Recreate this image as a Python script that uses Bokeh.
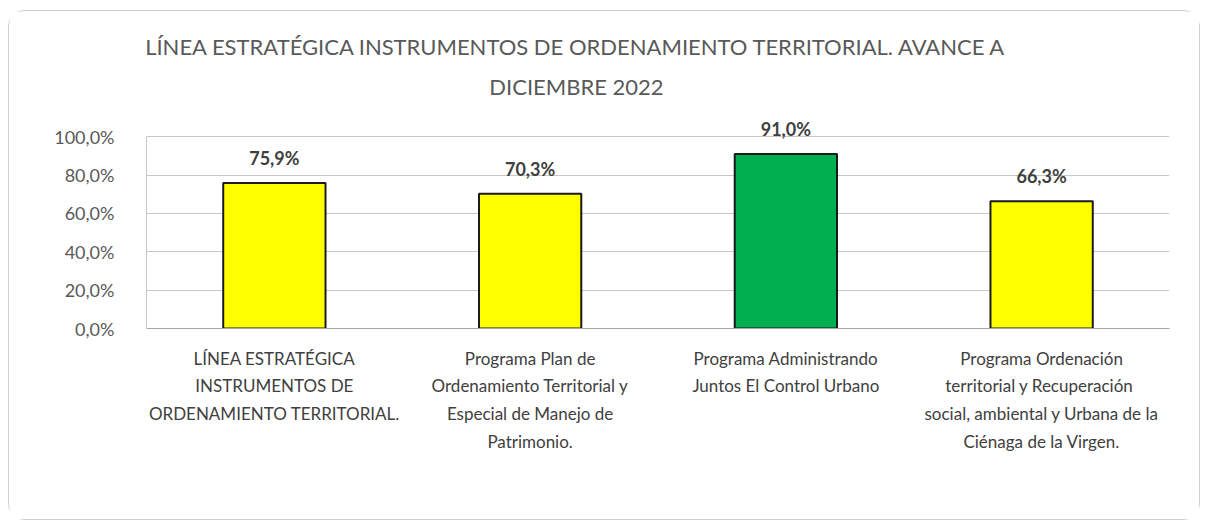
from bokeh.plotting import figure
from bokeh.models import ColumnDataSource, LabelSet, Label, CustomJSTickFormatter, FixedTicker
from bokeh.core.properties import value
from bokeh.embed import file_html
from bokeh.resources import INLINE

categories = [
    "LÍNEA ESTRATÉGICA\nINSTRUMENTOS DE\nORDENAMIENTO TERRITORIAL.",
    "Programa Plan de\nOrdenamiento Territorial y\nEspecial de Manejo de\nPatrimonio.",
    "Programa Administrando\nJuntos El Control Urbano",
    "Programa Ordenación\nterritorial y  Recuperación\nsocial, ambiental y Urbana de la\nCiénaga de la Virgen.",
]
values = [75.9, 70.3, 91.0, 66.3]
colors = ["#FFFF00", "#FFFF00", "#00B050", "#FFFF00"]
labels = ["75,9%", "70,3%", "91,0%", "66,3%"]
y_ticks = [0, 20, 40, 60, 80, 100]
title_lines = ["LÍNEA ESTRATÉGICA INSTRUMENTOS DE ORDENAMIENTO TERRITORIAL. AVANCE A",
               "DICIEMBRE 2022"]

FONT = "Lato"

src = ColumnDataSource(dict(cat=categories, val=values, color=colors, lab=labels))

p = figure(x_range=categories, y_range=(0, 165.3), width=1192, height=510,
           output_backend="svg", toolbar_location=None,
           min_border_left=137, min_border_right=32, min_border_top=0, min_border_bottom=193)
p.styles = {"border": "1px solid #d0d0d0", "border-radius": "16px",
            "margin-left": "8px", "margin-top": "10px"}
p.outline_line_color = None

p.vbar(x="cat", top="val", width=0.4, source=src, fill_color="color",
       line_color="#1a1a1a", line_width=2)

p.add_layout(LabelSet(x="cat", y="val", text="lab", source=src, y_offset=25,
                      text_align="center", text_baseline="middle",
                      text_font=value(FONT), text_font_style="bold",
                      text_font_size="18px", text_color="#404040"))

p.yaxis.ticker = FixedTicker(ticks=y_ticks)
p.yaxis.bounds = (0, 100)
p.yaxis.formatter = CustomJSTickFormatter(code="return tick.toFixed(1).replace('.', ',') + '%';")
p.yaxis.major_tick_line_color = None
p.yaxis.minor_tick_line_color = None
p.yaxis.axis_line_color = "#c8c8c8"
p.yaxis.major_label_text_font = FONT
p.yaxis.major_label_text_font_size = "18px"
p.yaxis.major_label_text_color = "#595959"
p.yaxis.major_label_standoff = 26

p.xaxis.major_tick_line_color = None
p.xaxis.axis_line_color = "#a6a6a6"
p.xaxis.major_label_text_font = FONT
p.xaxis.major_label_text_font_size = "17px"
p.xaxis.major_label_text_color = "#404040"
p.xaxis.major_label_standoff = 13
p.xaxis.major_label_text_line_height = 1.33

p.xgrid.grid_line_color = None
p.ygrid.grid_line_color = "#c8c8c8"
p.ygrid.ticker = FixedTicker(ticks=y_ticks)

for t, yy in zip(title_lines, [282, 242]):
    p.add_layout(Label(x=430, y=yy, x_units="screen", y_units="screen", text=t,
                       text_align="center", text_baseline="middle",
                       text_font=FONT, text_font_size="22px", text_color="#595959"))

open("out.html", "w").write(file_html(p, INLINE))
